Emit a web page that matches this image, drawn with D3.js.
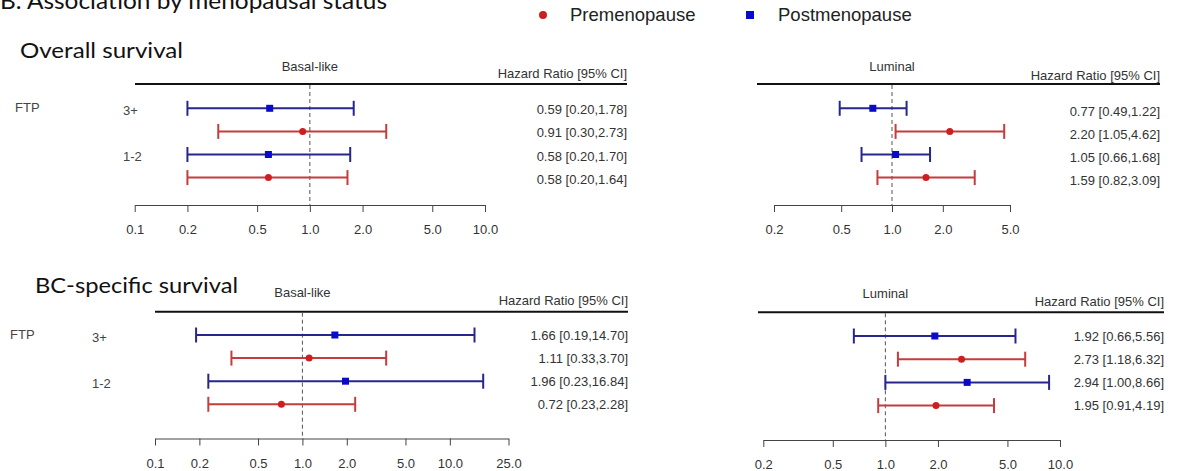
<!DOCTYPE html>
<html>
<head>
<meta charset="utf-8">
<script src="https://cdn.jsdelivr.net/npm/d3@7"></script>
<style>
  body { margin: 0; background: #fff; }
  svg text { font-family: "Liberation Sans", Arial, sans-serif; }
  .big { font-family: Lato, "Open Sans", sans-serif !important; fill: #111; }
</style>
</head>
<body>
<svg width="1192" height="471"></svg>
<script>
// rows top to bottom: 3+ post, 3+ pre, 1-2 post, 1-2 pre
const rowSeries = ['Postmenopause', 'Premenopause', 'Postmenopause', 'Premenopause'];
const groupLabels = ['3+', '1-2'];
const legendLabels = ['Premenopause', 'Postmenopause'];

const osBasalHR = [0.59, 0.91, 0.58, 0.58];
const osBasalLower = [0.20, 0.30, 0.20, 0.20];
const osBasalUpper = [1.78, 2.73, 1.70, 1.64];
const osBasalTicks = [0.1, 0.2, 0.5, 1.0, 2.0, 5.0, 10.0];

const osLumHR = [0.77, 2.20, 1.05, 1.59];
const osLumLower = [0.49, 1.05, 0.66, 0.82];
const osLumUpper = [1.22, 4.62, 1.68, 3.09];
const osLumTicks = [0.2, 0.5, 1.0, 2.0, 5.0];

const bcBasalHR = [1.66, 1.11, 1.96, 0.72];
const bcBasalLower = [0.19, 0.33, 0.23, 0.23];
const bcBasalUpper = [14.70, 3.70, 16.84, 2.28];
const bcBasalTicks = [0.1, 0.2, 0.5, 1.0, 2.0, 5.0, 10.0, 25.0];

const bcLumHR = [1.92, 2.73, 2.94, 1.95];
const bcLumLower = [0.66, 1.18, 1.00, 0.91];
const bcLumUpper = [5.56, 6.32, 8.66, 4.19];
const bcLumTicks = [0.2, 0.5, 1.0, 2.0, 5.0, 10.0];

const svg = d3.select('svg');
const fmt2 = d3.format('.2f');
const fmt1 = d3.format('.1f');

const lineColor = { Premenopause: '#c43c3c', Postmenopause: '#26268c' };
const markColor = { Premenopause: '#cc1f1f', Postmenopause: '#0a0acc' };

// titles (the top one is cut off by the picture edge, as in the original)
svg.append('text').attr('class', 'big').attr('x', 0).attr('y', 9)
    .style('font-size', '23px')
    .attr('textLength', 387).attr('lengthAdjust', 'spacingAndGlyphs')
    .text('B. Association by menopausal status');
svg.append('text').attr('class', 'big').attr('x', 20).attr('y', 58)
    .style('font-size', '21px')
    .attr('textLength', 163).attr('lengthAdjust', 'spacingAndGlyphs')
    .text('Overall survival');
svg.append('text').attr('class', 'big').attr('x', 35).attr('y', 293)
    .style('font-size', '21px')
    .attr('textLength', 203).attr('lengthAdjust', 'spacingAndGlyphs')
    .text('BC-specific survival');

// legend
const legend = svg.append('g');
legend.append('circle').attr('cx', 543).attr('cy', 15).attr('r', 4).attr('fill', markColor.Premenopause);
legend.append('rect').attr('x', 746).attr('y', 11).attr('width', 8).attr('height', 8).attr('fill', markColor.Postmenopause);
legend.selectAll('text.leg')
    .data(legendLabels)
    .enter().append('text')
    .attr('x', (d, i) => i === 0 ? 570 : 778)
    .attr('y', 15)
    .attr('dy', '0.35em')
    .style('font-size', '18.5px')
    .attr('fill', '#222')
    .text(d => d);

const panels = [
    { name: 'Basal-like', hr: osBasalHR, lo: osBasalLower, hi: osBasalUpper, ticks: osBasalTicks,
      x0: 134.7, x1: 485, headX0: 135, right: 627, headY: 84, axisY: 205, rowY: 108.3, step: 23.1,
      titleY: 66.5, hrLabY: 73, valY: 1.5, labels: true, ftpX: 15, grpX: 123 },
    { name: 'Luminal', hr: osLumHR, lo: osLumLower, hi: osLumUpper, ticks: osLumTicks,
      x0: 774, x1: 1010, headX0: 757, right: 1160, headY: 84, axisY: 205, rowY: 108.3, step: 23.1,
      titleY: 66, hrLabY: 75, valY: 3, labels: false },
    { name: 'Basal-like', hr: bcBasalHR, lo: bcBasalLower, hi: bcBasalUpper, ticks: bcBasalTicks,
      x0: 155, x1: 508.5, headX0: 155, right: 628, headY: 311.7, axisY: 438.5, rowY: 335, step: 23.1,
      titleY: 292, hrLabY: 300, valY: 0, labels: true, ftpX: 10, grpX: 92 },
    { name: 'Luminal', hr: bcLumHR, lo: bcLumLower, hi: bcLumUpper, ticks: bcLumTicks,
      x0: 763.3, x1: 1060, headX0: 758, right: 1164, headY: 312.3, axisY: 440, rowY: 336, step: 23.2,
      titleY: 293, hrLabY: 301, valY: 0, labels: false }
];

panels.forEach(p => {
    const g = svg.append('g');
    const x = d3.scaleLog()
        .domain([p.ticks[0], p.ticks[p.ticks.length - 1]])
        .range([p.x0, p.x1]);
    const y = d3.scaleLinear()
        .domain([0, 1])
        .range([p.rowY, p.rowY + p.step]);

    // header
    g.append('line')
        .attr('x1', p.headX0).attr('x2', p.right)
        .attr('y1', p.headY).attr('y2', p.headY)
        .attr('stroke', '#111').attr('stroke-width', 2);
    g.append('text')
        .attr('x', x(1)).attr('y', p.titleY).attr('dy', '0.35em')
        .attr('text-anchor', 'middle')
        .style('font-size', '13px').attr('fill', '#333')
        .text(p.name);
    g.append('text')
        .attr('x', p.right).attr('y', p.hrLabY).attr('dy', '0.35em')
        .attr('text-anchor', 'end')
        .style('font-size', '13px').attr('fill', '#333')
        .text('Hazard Ratio [95% CI]');

    // reference line at HR = 1
    g.append('line')
        .attr('x1', x(1)).attr('x2', x(1))
        .attr('y1', p.headY + 1).attr('y2', p.axisY)
        .attr('stroke', '#555').attr('stroke-width', 1)
        .attr('stroke-dasharray', '4,3');

    // axis
    const axisG = g.append('g')
        .attr('transform', `translate(0, ${p.axisY})`)
        .call(d3.axisBottom(x)
            .tickValues(p.ticks)
            .tickFormat(fmt1)
            .tickSize(7)
            .tickSizeOuter(0)
            .tickPadding(13));
    axisG.select('.domain').attr('stroke', '#444');
    axisG.selectAll('.tick line').attr('stroke', '#444');
    axisG.selectAll('.tick text')
        .style('font-size', '13px')
        .style('font-family', '"Liberation Sans", Arial, sans-serif')
        .attr('fill', '#333');

    const rows = p.hr.map((v, i) => ({ hr: v, lo: p.lo[i], hi: p.hi[i], s: rowSeries[i], i }));

    const rg = g.selectAll('g.row')
        .data(rows)
        .enter().append('g')
        .attr('class', 'row');

    rg.append('line')
        .attr('x1', d => x(d.lo)).attr('x2', d => x(d.hi))
        .attr('y1', d => y(d.i)).attr('y2', d => y(d.i))
        .attr('stroke', d => lineColor[d.s]).attr('stroke-width', 2);
    ['lo', 'hi'].forEach(k => {
        rg.append('line')
            .attr('x1', d => x(d[k])).attr('x2', d => x(d[k]))
            .attr('y1', d => y(d.i) - 7.5).attr('y2', d => y(d.i) + 7.5)
            .attr('stroke', d => lineColor[d.s]).attr('stroke-width', 2);
    });
    rg.filter(d => d.s === 'Premenopause').append('circle')
        .attr('cx', d => x(d.hr)).attr('cy', d => y(d.i)).attr('r', 3.5)
        .attr('fill', d => markColor[d.s]);
    rg.filter(d => d.s === 'Postmenopause').append('rect')
        .attr('x', d => x(d.hr) - 3.5).attr('y', d => y(d.i) - 3.5)
        .attr('width', 7).attr('height', 7)
        .attr('fill', d => markColor[d.s]);

    rg.append('text')
        .attr('x', p.right).attr('y', d => y(d.i) + p.valY).attr('dy', '0.35em')
        .attr('text-anchor', 'end')
        .style('font-size', '13px').attr('fill', '#333')
        .text(d => `${fmt2(d.hr)} [${fmt2(d.lo)},${fmt2(d.hi)}]`);

    if (p.labels) {
        g.append('text')
            .attr('x', p.ftpX).attr('y', y(0) - 1).attr('dy', '0.35em')
            .style('font-size', '13px').attr('fill', '#444')
            .text('FTP');
        g.selectAll('text.grp')
            .data(groupLabels)
            .enter().append('text')
            .attr('x', p.grpX)
            .attr('y', (d, i) => y(i * 2) + 2)
            .attr('dy', '0.35em')
            .style('font-size', '13px').attr('fill', '#444')
            .text(d => d);
    }
});
</script>
</body>
</html>
